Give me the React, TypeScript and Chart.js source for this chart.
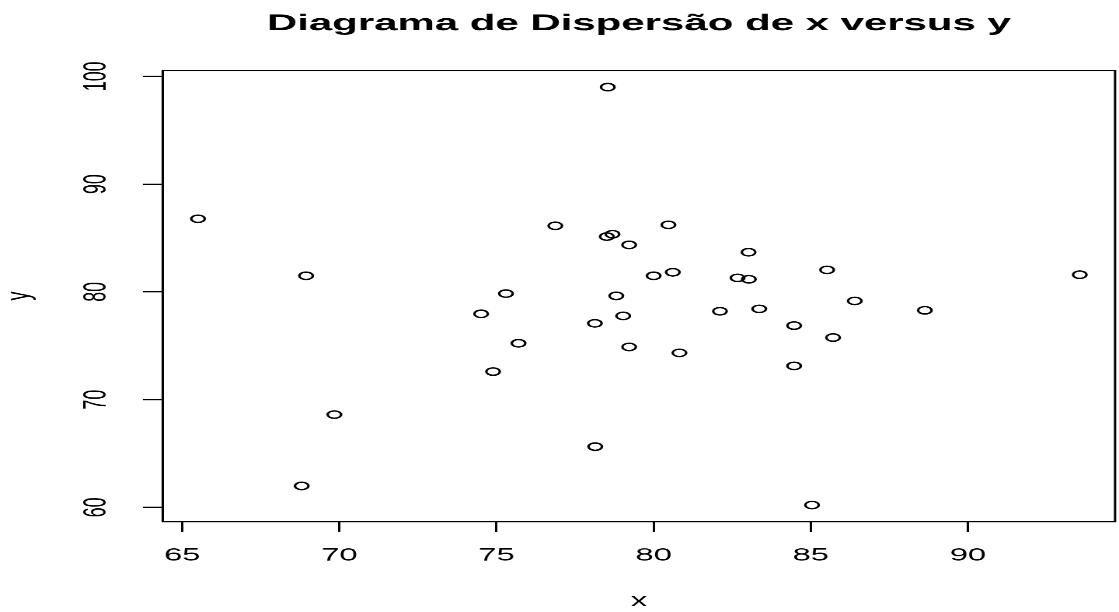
import React, { useEffect, useRef } from "react";
import { Chart, registerables } from "chart.js";

Chart.register(...registerables);

const chartTitle = "Diagrama de Dispersão de x versus y";
const xLabel = "x";
const yLabel = "y";

const xValues = [
  65.5, 68.94, 75.3, 78.54, 76.87, 80.47, 78.51, 78.69, 79.22, 83.02, 80.0, 80.61,
  82.67, 83.03, 85.52, 78.81, 86.4, 74.51, 75.7, 74.89, 69.84, 68.8, 79.03, 78.13,
  82.11, 83.36, 88.63, 84.47, 85.71, 79.22, 80.82, 84.47, 78.14, 85.04, 93.56,
];
const yValues = [
  86.78, 81.49, 79.84, 99.0, 86.13, 86.22, 85.13, 85.35, 84.36, 83.68, 81.49, 81.82,
  81.3, 81.17, 82.04, 79.63, 79.16, 77.96, 75.23, 72.6, 68.61, 61.99, 77.77, 77.08,
  78.2, 78.42, 78.29, 76.87, 75.76, 74.89, 74.34, 73.13, 65.64, 60.22, 81.59,
];

const xTicks = [65, 70, 75, 80, 85, 90];
const yTicks = [60, 70, 80, 90, 100];

// R-style 4% range extension
function rRange(vals: number[]) {
  const lo = Math.min(...vals);
  const hi = Math.max(...vals);
  const d = (hi - lo) * 0.04;
  return { min: lo - d, max: hi + d };
}

const FONT = "'Liberation Sans', Arial, sans-serif";
const INK = "#000";

const boxPlugin = {
  id: "rbox",
  afterDraw(chart: any) {
    const { ctx, chartArea } = chart;
    ctx.save();
    ctx.strokeStyle = INK;
    ctx.lineWidth = 1;
    ctx.strokeRect(chartArea.left, chartArea.top, chartArea.right - chartArea.left, chartArea.bottom - chartArea.top);
    ctx.restore();
  },
};

export default function App() {
  const ref = useRef<HTMLCanvasElement | null>(null);

  useEffect(() => {
    if (!ref.current) return;
    const xr = rRange(xValues);
    const yr = rRange(yValues);
    const chart = new Chart(ref.current, {
      type: "scatter",
      data: {
        datasets: [
          {
            data: xValues.map((x, i) => ({ x, y: yValues[i] })),
            pointStyle: "circle",
            pointRadius: 2.9,
            pointBorderWidth: 1.1,
            pointBorderColor: INK,
            pointBackgroundColor: "rgba(0,0,0,0)",
            showLine: false,
          },
        ],
      },
      options: {
        responsive: false,
        animation: false,
        devicePixelRatio: 3,
        events: [],
        layout: { autoPadding: false, padding: { left: 0, right: 1.7, top: 0, bottom: 0 } },
        plugins: {
          legend: { display: false },
          tooltip: { enabled: false },
          title: {
            display: true,
            text: chartTitle,
            fullSize: false,
            color: INK,
            font: { family: FONT, size: 18, weight: "bold" },
            padding: { top: 8.0, bottom: 25.6 },
          },
        },
        scales: {
          x: {
            type: "linear",
            position: "bottom",
            min: xr.min,
            max: xr.max,
            afterBuildTicks: (s: any) => {
              s.ticks = xTicks.map((v) => ({ value: v }));
            },
            afterFit: (s: any) => {
              s.height = 70.8;
            },
            grid: { display: true, drawOnChartArea: false, drawTicks: true, tickLength: 7.8, color: INK, lineWidth: 1 },
            border: { display: true, color: INK, width: 1 },
            ticks: {
              color: INK,
              font: { family: FONT, size: 14 },
              padding: 10.4,
              maxRotation: 0,
              minRotation: 0,
              callback: (v: any) => String(v),
            },
            title: {
              display: true,
              text: xLabel,
              color: INK,
              font: { family: FONT, size: 14 },
              padding: { top: 0, bottom: 0 },
            },
          },
          y: {
            type: "linear",
            position: "left",
            min: yr.min,
            max: yr.max,
            afterBuildTicks: (s: any) => {
              s.ticks = yTicks.map((v) => ({ value: v }));
            },
            afterFit: (s: any) => {
              s.width = 69.8;
            },
            grid: { display: true, drawOnChartArea: false, drawTicks: true, tickLength: 8.5, color: INK, lineWidth: 1 },
            border: { display: true, color: INK, width: 1 },
            ticks: {
              color: INK,
              font: { family: FONT, size: 14 },
              padding: 8.2,
              minRotation: 90,
              maxRotation: 90,
              crossAlign: "center",
              callback: (v: any) => String(v),
            },
            title: {
              display: true,
              text: yLabel,
              color: INK,
              font: { family: FONT, size: 14 },
              padding: { top: 0, bottom: 0 },
            },
          },
        },
      },
      plugins: [boxPlugin],
    } as any);
    return () => chart.destroy();
  }, []);

  return (
    <div
      style={{
        position: "absolute",
        left: 0,
        top: 0,
        width: 1119,
        height: 612,
        overflow: "hidden",
        background: "#fff",
      }}
    >
      <canvas
        ref={ref}
        width={480}
        height={480}
        style={{
          width: 480,
          height: 480,
          display: "block",
          transform: "scale(2.33125, 1.275)",
          transformOrigin: "0 0",
        }}
      />
    </div>
  );
}
